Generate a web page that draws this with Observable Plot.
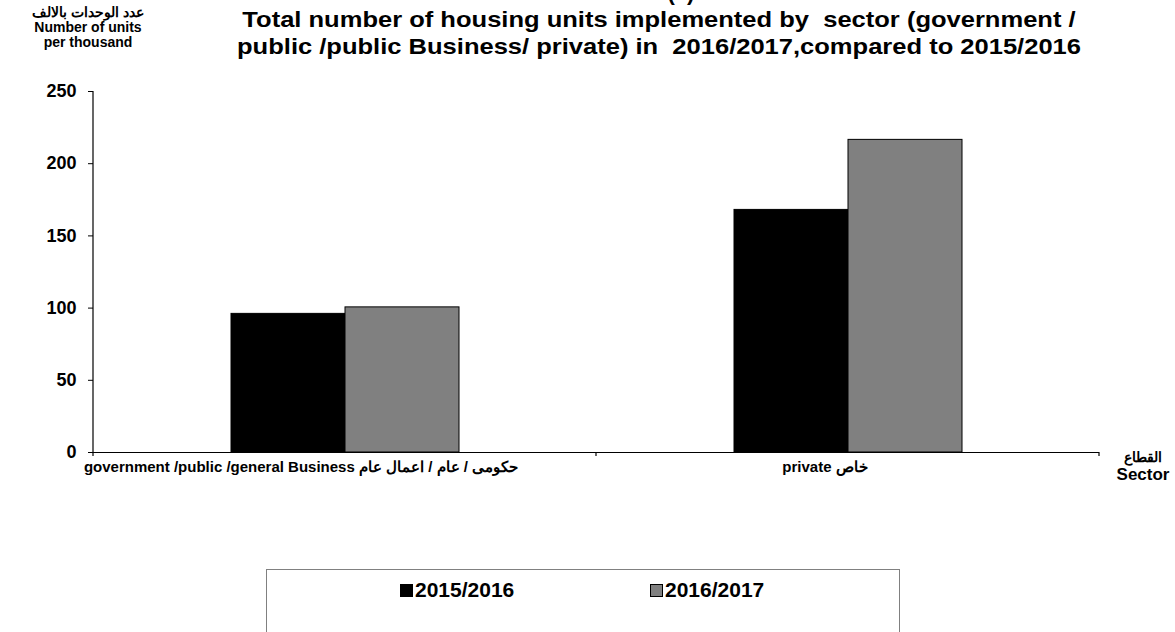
<!DOCTYPE html>
<html>
<head>
<meta charset="utf-8">
<script src="https://cdn.jsdelivr.net/npm/d3@7"></script>
<script src="https://cdn.jsdelivr.net/npm/@observablehq/plot@0.6"></script>
<style>
  html, body { margin: 0; padding: 0; background: #fff; }
  body { width: 1175px; height: 632px; position: relative; overflow: hidden;
         font-family: "Liberation Sans", Arial, sans-serif; font-weight: bold; color: #000; }
  .abs { position: absolute; white-space: pre; }
  #chart { position: absolute; left: 0; top: 0; }
  #title { left: 0; width: 1318px; top: 6px; text-align: center; font-size: 22px; line-height: 27px; transform: scaleX(1.16); transform-origin: 659px 0; }
  #num { left: 681px; top: -20px; font-size: 22px; transform: translateX(-50%); }
  #ylab { left: 88px; top: 5px; transform: translateX(-50%); text-align: center; font-size: 14px; line-height: 15px; }
  #xlab { left: 1143px; top: 450px; transform: translateX(-50%); text-align: center; }
  #xlab .ar { font-size: 14px; line-height: 14px; }
  #xlab .en { font-size: 17px; line-height: 21px; }
  #legend { left: 266px; top: 569px; width: 632px; height: 80px; border: 1px solid #808080; }
  .item { position: absolute; top: 8px; font-size: 21px; line-height: 24px; display: flex; align-items: center; }
  .sw { width: 13px; height: 13px; border: 1px solid #000; margin-right: 2px; box-sizing: border-box; }
</style>
</head>
<body>
<div id="chart"></div>
<div class="abs" id="num">(4)</div>
<div class="abs" id="title"></div>
<div class="abs" id="ylab"></div>
<div class="abs" id="xlab"></div>
<div class="abs" id="legend"></div>
<script>
// ---- data ----
const categories = ["government /public /general Business حكومى / عام / اعمال عام", "private خاص"];
const years = ["2015/2016", "2016/2017"];
const values2015 = [96, 168];
const values2016 = [100.5, 216.5];
const yTicks = [0, 50, 100, 150, 200, 250];
const colors = ["#000000", "#808080"];
const titleLines = ["Total number of housing units implemented by  sector (government /",
                    "public /public Business/ private) in  2016/2017,compared to 2015/2016"];
const yLabelLines = ["عدد الوحدات بالالف", "Number of units", "per thousand"];
const xLabelLines = ["القطاع", "Sector"];

const data = [];
categories.forEach((c, i) => {
  data.push({category: c, year: years[0], value: values2015[i]});
  data.push({category: c, year: years[1], value: values2016[i]});
});

const font = "'Liberation Sans', Arial, sans-serif";

const plot = Plot.plot({
  width: 1175,
  height: 480,
  marginLeft: 92,
  marginRight: 76,
  marginTop: 91,
  marginBottom: 28,
  style: {fontFamily: font, fontWeight: "bold", color: "#000", background: "transparent", overflow: "visible"},
  fx: {domain: categories, padding: 0, axis: null, label: null},
  x: {domain: years, paddingInner: 0, paddingOuter: 1.19, axis: null, label: null},
  y: {domain: [0, 250], axis: null, label: null},
  color: {domain: years, range: colors},
  marks: [
    Plot.barY(data, {fx: "category", x: "year", y: "value", fill: "year", stroke: "#000", strokeWidth: 1, inset: 0}),
    Plot.ruleY([0], {stroke: "#000", strokeWidth: 1.2}),
    Plot.axisY({ticks: yTicks, tickSize: 5, tickPadding: 12, fontSize: 18, fontWeight: "bold", stroke: "#000", strokeOpacity: 1, label: null}),
    Plot.axisFx({ticks: [categories[0]], anchor: "bottom", tickSize: 0, tickPadding: 9, fontSize: 15, fontWeight: "bold", dx: -44, label: null}),
    Plot.axisFx({ticks: [categories[1]], anchor: "bottom", tickSize: 0, tickPadding: 9, fontSize: 15, fontWeight: "bold", dx: -23, label: null})
  ]
});
document.getElementById("chart").appendChild(plot);

// axis line on the left and category boundary ticks, from the plot's own scales
const fx = plot.scale("fx"), y = plot.scale("y");
const y0 = y.apply(0), yTop = y.apply(250);
const left = fx.apply(categories[0]);
const svg = d3.select(plot);
const g = svg.append("g").attr("stroke", "#000").attr("stroke-width", 1.2);
g.append("line").attr("x1", left).attr("x2", left).attr("y1", yTop).attr("y2", y0 + 4);
categories.forEach(c => {
  const xr = fx.apply(c) + fx.bandwidth;
  g.append("line").attr("x1", xr).attr("x2", xr).attr("y1", y0).attr("y2", y0 + 4);
});

// texts
document.getElementById("title").textContent = titleLines.join("\n");
document.getElementById("ylab").textContent = yLabelLines.join("\n");
document.getElementById("xlab").innerHTML = `<div class="ar">${xLabelLines[0]}</div><div class="en">${xLabelLines[1]}</div>`;
const legend = document.getElementById("legend");
const legendX = [133, 383];
years.forEach((yr, i) => {
  const it = document.createElement("div");
  it.className = "item";
  it.style.left = legendX[i] + "px";
  it.innerHTML = `<span class="sw" style="background:${colors[i]}"></span><span>${yr}</span>`;
  legend.appendChild(it);
});
</script>
</body>
</html>
